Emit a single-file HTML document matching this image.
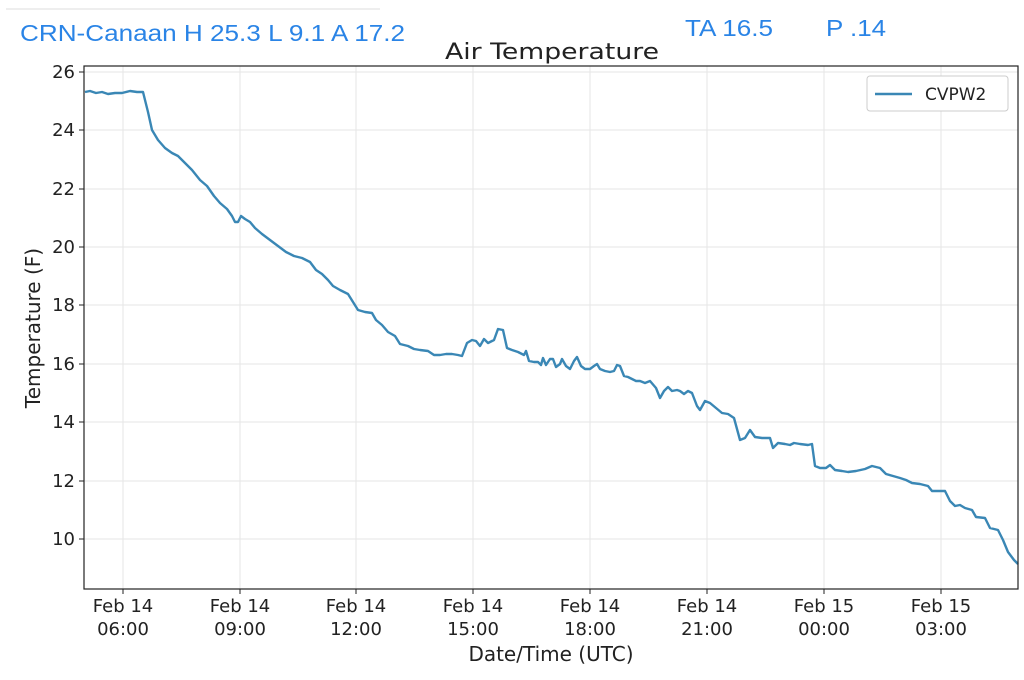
<!DOCTYPE html>
<html><head><meta charset="utf-8"><style>
html,body{margin:0;padding:0;background:#fff;width:1024px;height:680px;overflow:hidden}
</style></head><body>
<svg width="1024" height="680" xmlns="http://www.w3.org/2000/svg" font-family="DejaVu Sans, sans-serif">
<line x1="6" y1="9" x2="380" y2="9" stroke="#eee" stroke-width="2"/>
<g fill="#2a84e6" font-family="Liberation Sans, sans-serif" font-size="23">
<text x="20" y="41" textLength="385" lengthAdjust="spacingAndGlyphs">CRN-Canaan H 25.3 L 9.1 A 17.2</text>
<text x="685" y="36" textLength="88" lengthAdjust="spacingAndGlyphs">TA 16.5</text>
<text x="826" y="36" textLength="60" lengthAdjust="spacingAndGlyphs">P .14</text>
</g>
<text x="552" y="59" text-anchor="middle" font-size="22" fill="#222" textLength="214" lengthAdjust="spacingAndGlyphs">Air Temperature</text>
<g stroke="#e6e6e6" stroke-width="1">
<line x1="123" y1="66" x2="123" y2="589"/><line x1="240" y1="66" x2="240" y2="589"/>
<line x1="356" y1="66" x2="356" y2="589"/><line x1="473" y1="66" x2="473" y2="589"/>
<line x1="590" y1="66" x2="590" y2="589"/><line x1="707" y1="66" x2="707" y2="589"/>
<line x1="824" y1="66" x2="824" y2="589"/><line x1="941" y1="66" x2="941" y2="589"/>
<line x1="84" y1="72" x2="1018" y2="72"/><line x1="84" y1="130" x2="1018" y2="130"/>
<line x1="84" y1="189" x2="1018" y2="189"/><line x1="84" y1="247" x2="1018" y2="247"/>
<line x1="84" y1="305" x2="1018" y2="305"/><line x1="84" y1="364" x2="1018" y2="364"/>
<line x1="84" y1="422" x2="1018" y2="422"/><line x1="84" y1="481" x2="1018" y2="481"/>
<line x1="84" y1="539" x2="1018" y2="539"/>
</g>
<polyline fill="none" stroke="#3a87b5" stroke-width="2.4" stroke-linejoin="round" points="85,92 90,91 96,93 102,92 108,94 115,93 122,93 130,91 137,92 143,92 148,112 152,130 158,140 165,148 172,153 178,156 185,163 192,170 200,180 207,186 214,196 220,203 227,209 232,216 235,222 238,222 241,216 245,219 250,222 255,228 262,234 270,240 278,246 286,252 294,256 302,258 310,262 316,270 322,274 328,280 333,286 340,290 348,294 353,302 358,310 365,312 372,313 376,320 382,325 388,332 395,336 400,344 408,346 414,349 420,350 428,351 434,355 440,355 446,354 452,354 458,355 462,356 467,343 472,340 476,341 480,346 484,339 488,343 494,340 498,329 503,330 507,348 512,350 518,352 524,355 526,351 529,361 534,362 538,362 541,365 543,358 546,365 550,359 553,359 556,367 560,364 562,359 566,366 570,369 574,361 577,357 581,366 585,369 590,369 594,366 597,364 600,369 605,371 610,372 614,371 617,365 620,366 624,376 628,377 632,379 636,381 640,381 645,383 650,381 656,388 660,398 664,391 668,387 672,391 677,390 680,391 684,394 688,391 692,393 697,406 700,410 705,401 710,403 716,408 722,413 728,414 734,418 740,440 745,438 750,430 755,437 762,438 770,438 773,448 778,443 785,444 790,445 794,443 800,444 808,445 812,444 815,466 820,468 826,468 830,465 835,470 842,471 848,472 856,471 865,469 872,466 880,468 886,474 893,476 900,478 906,480 912,483 920,484 928,486 932,491 945,491 950,501 955,506 960,505 965,508 972,510 976,517 985,518 990,528 998,530 1003,540 1008,552 1014,560 1018,564"/>
<rect x="84" y="66" width="934" height="523" fill="none" stroke="#222" stroke-width="1.2"/>
<g stroke="#222"><line x1="79" y1="72" x2="84" y2="72"/><line x1="79" y1="130" x2="84" y2="130"/><line x1="79" y1="189" x2="84" y2="189"/><line x1="79" y1="247" x2="84" y2="247"/><line x1="79" y1="305" x2="84" y2="305"/><line x1="79" y1="364" x2="84" y2="364"/><line x1="79" y1="422" x2="84" y2="422"/><line x1="79" y1="481" x2="84" y2="481"/><line x1="79" y1="539" x2="84" y2="539"/>
<line x1="123" y1="589" x2="123" y2="594"/><line x1="240" y1="589" x2="240" y2="594"/><line x1="356" y1="589" x2="356" y2="594"/><line x1="473" y1="589" x2="473" y2="594"/><line x1="590" y1="589" x2="590" y2="594"/><line x1="707" y1="589" x2="707" y2="594"/><line x1="824" y1="589" x2="824" y2="594"/><line x1="941" y1="589" x2="941" y2="594"/></g>
<g font-size="18" fill="#222" text-anchor="end">
<text x="75" y="78">26</text><text x="75" y="136">24</text><text x="75" y="195">22</text><text x="75" y="253">20</text><text x="75" y="311">18</text><text x="75" y="370">16</text><text x="75" y="428">14</text><text x="75" y="487">12</text><text x="75" y="545">10</text>
</g>
<g font-size="18" fill="#222" text-anchor="middle">
<text x="123" y="612">Feb 14</text><text x="123" y="635">06:00</text>
<text x="240" y="612">Feb 14</text><text x="240" y="635">09:00</text>
<text x="356" y="612">Feb 14</text><text x="356" y="635">12:00</text>
<text x="473" y="612">Feb 14</text><text x="473" y="635">15:00</text>
<text x="590" y="612">Feb 14</text><text x="590" y="635">18:00</text>
<text x="707" y="612">Feb 14</text><text x="707" y="635">21:00</text>
<text x="824" y="612">Feb 15</text><text x="824" y="635">00:00</text>
<text x="941" y="612">Feb 15</text><text x="941" y="635">03:00</text>
<text x="551" y="661" font-size="20">Date/Time (UTC)</text>
</g>
<text transform="translate(40,328) rotate(-90)" text-anchor="middle" font-size="20" fill="#222">Temperature (F)</text>
<rect x="867" y="76" width="141" height="35" rx="3" fill="#fff" stroke="#ccc"/>
<line x1="875" y1="94" x2="912" y2="94" stroke="#3a87b5" stroke-width="2.4"/>
<text x="925" y="100" font-size="17" fill="#222">CVPW2</text>
</svg>
</body></html>
